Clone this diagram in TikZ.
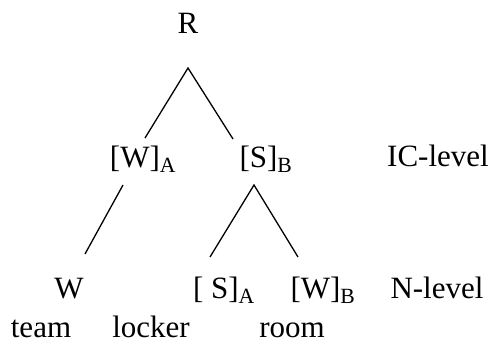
\documentclass[tikz,border=0pt]{standalone}
\usepackage{fontspec}
\setmainfont{Liberation Serif}
\begin{document}
\begin{tikzpicture}[x=1pt,y=-1pt,
  lbl/.style={anchor=base,inner sep=0pt,font=\fontsize{31}{37}\selectfont},
  branch/.style={line width=1.3pt,line join=miter}]
\useasboundingbox (0,0) rectangle (493,343);
% texts
\node[lbl] (R) at (188,33) {R};
\node[lbl] (WA) at (143,167) {[W]\textsubscript{A}};
\node[lbl] (SB) at (266,167) {[S]\textsubscript{B}};
\node[lbl] (IC) at (438,166) {IC-level};
\node[lbl] (W) at (69,298) {W};
\node[lbl] (SA) at (224,298) {[ S]\textsubscript{A}};
\node[lbl] (WB) at (323,298) {[W]\textsubscript{B}};
\node[lbl] (NL) at (437,298) {N-level};
\node[lbl] (team) at (41,337) {team};
\node[lbl] (locker) at (151,337) {locker};
\node[lbl] (room) at (292,337) {room};
% branch points
\coordinate (apexR) at (188,68);
\coordinate (endWA) at (145,138);
\coordinate (endSB) at (233,139);
\coordinate (startWA) at (123,185);
\coordinate (endW) at (85,254);
\coordinate (apexSB) at (254,185);
\coordinate (endSA) at (210,257);
\coordinate (endWB) at (298,257);
% connectors
\draw[branch] (endWA) -- (apexR) -- (endSB);
\draw[branch] (startWA) -- (endW);
\draw[branch] (endSA) -- (apexSB) -- (endWB);
\end{tikzpicture}
\end{document}
